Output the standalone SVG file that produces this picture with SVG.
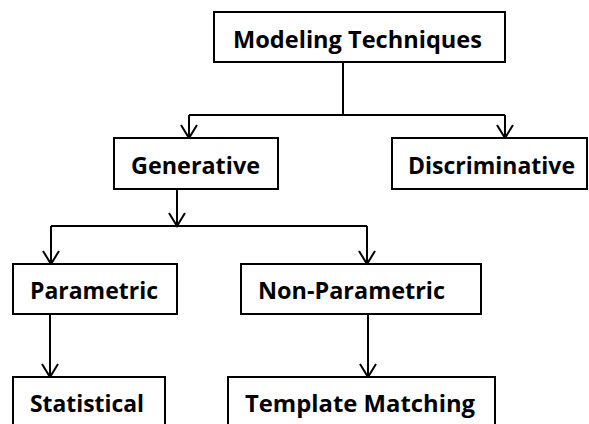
<svg xmlns="http://www.w3.org/2000/svg" width="589" height="424" viewBox="0 0 589 424">
<style>
.box{fill:#fff;stroke:#000;stroke-width:2}
.lbl{font-family:"Open Sans","DejaVu Sans",sans-serif;font-weight:700;font-size:23.5px;fill:#000}
.ln{fill:none;stroke:#000;stroke-width:2}
</style>
<defs>
<marker id="arr" markerUnits="userSpaceOnUse" markerWidth="20" markerHeight="20" viewBox="-10 -10 20 20" refX="0" refY="0" orient="auto" overflow="visible">
<path d="M-13,-8 L0,0 L-13,8" fill="none" stroke="#000" stroke-width="2"/>
</marker>
</defs>
<rect width="589" height="424" fill="#fff"/>
<g id="connectors">
<path class="ln" d="M343,62 V115 M189,115 H505"/>
<path class="ln" d="M189,115 V138" marker-end="url(#arr)"/>
<path class="ln" d="M505,115 V138" marker-end="url(#arr)"/>
<path class="ln" d="M177,189 V226" marker-end="url(#arr)"/>
<path class="ln" d="M51,226 H367"/>
<path class="ln" d="M51,226 V264" marker-end="url(#arr)"/>
<path class="ln" d="M367,226 V264" marker-end="url(#arr)"/>
<path class="ln" d="M50,314 V377" marker-end="url(#arr)"/>
<path class="ln" d="M368,314 V377" marker-end="url(#arr)"/>
</g>
<g id="modeling-techniques"><rect class="box" x="214" y="12" width="291" height="50"/><text class="lbl" x="233" y="48" textLength="249" lengthAdjust="spacingAndGlyphs">Modeling Techniques</text></g>
<g id="generative"><rect class="box" x="114" y="138" width="164" height="51"/><text class="lbl" x="131" y="174" textLength="129" lengthAdjust="spacingAndGlyphs">Generative</text></g>
<g id="discriminative"><rect class="box" x="392" y="138" width="195" height="51"/><text class="lbl" x="408" y="174" textLength="167" lengthAdjust="spacingAndGlyphs">Discriminative</text></g>
<g id="parametric"><rect class="box" x="13" y="264" width="164" height="50"/><text class="lbl" x="30" y="299" textLength="128" lengthAdjust="spacingAndGlyphs">Parametric</text></g>
<g id="non-parametric"><rect class="box" x="241" y="264" width="240" height="50"/><text class="lbl" x="258" y="299" textLength="187" lengthAdjust="spacingAndGlyphs">Non-Parametric</text></g>
<g id="statistical"><rect class="box" x="13" y="377" width="152" height="70"/><text class="lbl" x="30" y="412" textLength="114" lengthAdjust="spacingAndGlyphs">Statistical</text></g>
<g id="template-matching"><rect class="box" x="228" y="377" width="267" height="70"/><text class="lbl" x="245" y="412" textLength="230" lengthAdjust="spacingAndGlyphs">Template Matching</text></g>
</svg>
